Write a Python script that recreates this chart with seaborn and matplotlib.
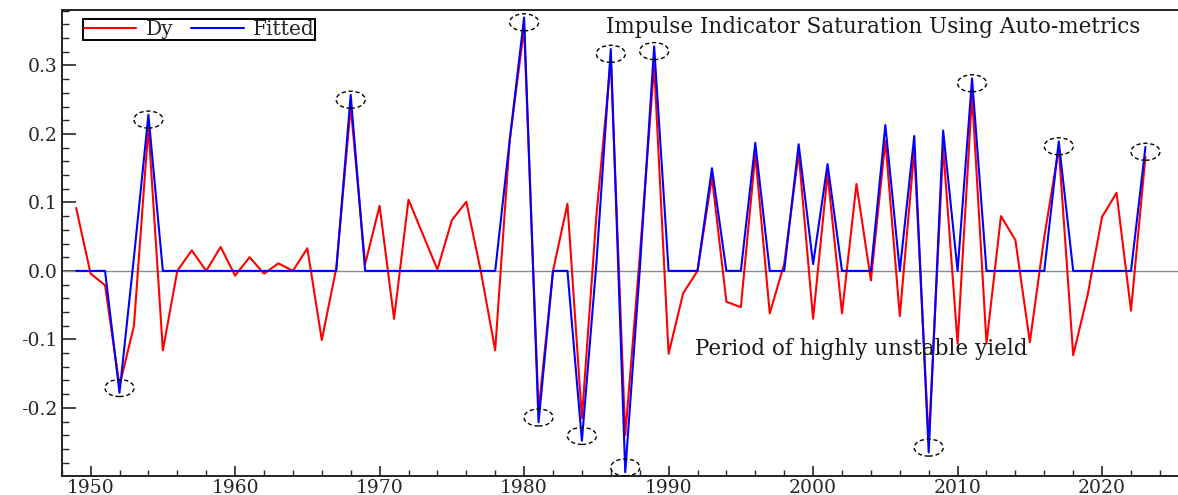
import numpy as np
import pandas as pd
import matplotlib
matplotlib.use("Agg")
import matplotlib.pyplot as plt
from matplotlib.patches import Ellipse
from matplotlib.ticker import MultipleLocator
import seaborn as sns

years = list(range(1949, 2024))

dy = [0.092, -0.004, -0.021, -0.168, -0.080, 0.210, -0.116, 0.000, 0.030, 0.000,
      0.035, -0.007, 0.020, -0.004, 0.011, 0.000, 0.033, -0.101, 0.004, 0.240,
      0.010, 0.095, -0.070, 0.104, 0.053, 0.002, 0.074, 0.101, 0.000, -0.116,
      0.190, 0.355, -0.204, 0.000, 0.098, -0.215, 0.080, 0.308, -0.240, 0.020,
      0.300, -0.121, -0.033, 0.000, 0.137, -0.045, -0.053, 0.170, -0.062, 0.010,
      0.172, -0.070, 0.142, -0.062, 0.127, -0.014, 0.190, -0.066, 0.176, -0.250,
      0.180, -0.106, 0.257, -0.106, 0.080, 0.045, -0.104, 0.050, 0.179, -0.123,
      -0.035, 0.079, 0.114, -0.058, 0.167]

fitted = [0.0, 0.0, 0.0, -0.178, 0.020, 0.228, 0.0, 0.0, 0.0, 0.0,
          0.0, 0.0, 0.0, 0.0, 0.0, 0.0, 0.0, 0.0, 0.0, 0.257,
          0.0, 0.0, 0.0, 0.0, 0.0, 0.0, 0.0, 0.0, 0.0, 0.0,
          0.190, 0.370, -0.221, 0.0, 0.0, -0.248, 0.010, 0.324, -0.294, 0.0,
          0.328, 0.0, 0.0, 0.0, 0.150, 0.0, 0.0, 0.187, 0.0, 0.0,
          0.185, 0.010, 0.156, 0.0, 0.0, 0.0, 0.213, 0.0, 0.197, -0.265,
          0.205, 0.0, 0.281, 0.0, 0.0, 0.0, 0.0, 0.0, 0.189, 0.0,
          0.0, 0.0, 0.0, 0.0, 0.181]

# years picked out as impulses (circled)
impulse_years = [1952, 1954, 1968, 1980, 1981, 1984, 1986, 1987, 1989, 2008, 2011, 2017, 2023]

df = pd.DataFrame({"year": years, "Dy": dy, "Fitted": fitted})

sns.set_style("white")
plt.rcParams["font.family"] = ["DejaVu Serif"]

W, H = 1178, 495
fig = plt.figure(figsize=(W / 100, H / 100), dpi=100)
ax = fig.add_axes([61.7 / W, 19 / H, (1184 - 61.7) / W, (476 - 10) / H])

ax.axhline(0, color="#8c8c8c", lw=1.0, zorder=1)
sns.lineplot(data=df, x="year", y="Dy", color="#ff0000", lw=1.5, ax=ax, label="Dy", zorder=2)
sns.lineplot(data=df, x="year", y="Fitted", color="#0000ff", lw=1.5, ax=ax, label="Fitted", zorder=3)

ax.set_xlim(1948, 1948 + (1184 - 61.7) / 14.45)
ax.set_ylim(-0.2995, 0.381)

# dashed ellipses round the impulse dates
ex = 29 / 14.45
ey = 17 / 684
for yr in impulse_years:
    v = fitted[years.index(yr)]
    ax.add_patch(Ellipse((yr, v - 0.007 * np.sign(v)), ex, ey, fill=False,
                         ec="black", lw=1.0, ls=(0, (3, 2)), zorder=4))

ax.text(1985.7, 0.356, "Impulse Indicator Saturation Using Auto-metrics",
        fontsize=15.5, va="center", ha="left", color="#1a1a1a")
ax.text(1991.8, -0.114, "Period of highly unstable yield",
        fontsize=15.5, va="center", ha="left", color="#1a1a1a")

ax.set_xlabel("")
ax.set_ylabel("")
ax.xaxis.set_major_locator(MultipleLocator(10))
ax.xaxis.set_minor_locator(MultipleLocator(2))
ax.yaxis.set_major_locator(MultipleLocator(0.1))
ax.yaxis.set_minor_locator(MultipleLocator(0.02))
ax.yaxis.set_major_formatter(plt.FormatStrFormatter("%.1f"))
ax.tick_params(which="major", direction="in", length=7, width=1.2, labelsize=13.5, pad=3,
               bottom=True, left=True, top=False, right=False)
ax.tick_params(which="minor", direction="in", length=4, width=1.0,
               bottom=True, left=True, top=False, right=False)
ax.tick_params(axis="y", which="major", length=10)
ax.tick_params(axis="y", which="minor", length=5)
ax.tick_params(axis="x", pad=2)
for s in ax.spines.values():
    s.set_color("#222222")
    s.set_linewidth(1.4)

leg = ax.legend(loc="upper left", bbox_to_anchor=(0.019, 0.981), ncol=2, fontsize=14.5,
                frameon=True, fancybox=False, edgecolor="black", framealpha=1,
                handlelength=2.6, handletextpad=0.45, columnspacing=0.9,
                borderpad=0.05, borderaxespad=0)
leg.get_frame().set_linewidth(1.4)

fig.savefig("out.png", dpi=100)
